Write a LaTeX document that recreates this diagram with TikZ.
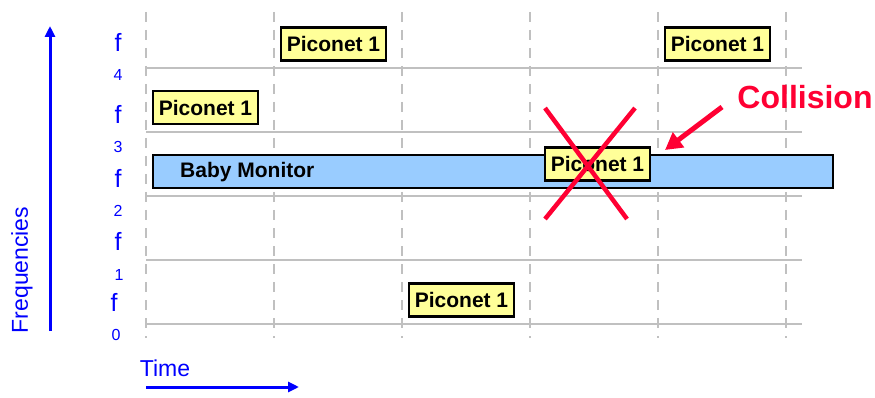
\documentclass[tikz,border=0pt]{standalone}
\usepackage{fontspec}
\setmainfont{Liberation Sans}
\usetikzlibrary{arrows.meta}
\definecolor{gridgray}{RGB}{192,192,192}
\definecolor{piyellow}{RGB}{255,255,153}
\definecolor{monblue}{RGB}{153,204,255}
\definecolor{axblue}{RGB}{0,0,255}
\definecolor{colred}{RGB}{255,0,51}
\tikzset{
  gridv/.style={gridgray, line width=2.4pt, dash pattern=on 10pt off 8pt},
  gridh/.style={gridgray, line width=2.4pt},
  picobox/.style={draw=black, line width=2.5pt, fill=piyellow, minimum width=105pt, minimum height=33pt, inner sep=0pt, font=\fontsize{21}{23}\selectfont\bfseries},
  monbox/.style={draw=black, line width=2.5pt, fill=monblue, minimum width=680pt, minimum height=33pt, inner sep=0pt},
  montext/.style={font=\fontsize{21}{23}\selectfont\bfseries, inner sep=0pt},
  flabel/.style={text=axblue, font=\fontsize{25}{27}\selectfont, inner sep=0pt},
  sublabel/.style={text=axblue, font=\fontsize{16}{18}\selectfont, inner sep=0pt},
  axlabel/.style={text=axblue, font=\fontsize{23}{25}\selectfont, inner sep=0pt},
  axarrow/.style={axblue, line width=3pt, -{Triangle[length=11pt,width=10pt]}},
  crossline/.style={colred, line width=4.5pt},
  colarrow/.style={colred, line width=5pt, -{Triangle[length=17pt,width=18pt]}},
  coltext/.style={text=colred, font=\fontsize{32}{34}\selectfont\bfseries, inner sep=0pt}
}
\begin{document}
\begin{tikzpicture}[x=1pt,y=-1pt]
\useasboundingbox (0,0) rectangle (875,398);
% grid
\foreach \xx in {146,274,402,530,658,786}
  \draw[gridv] (\xx,12) -- (\xx,338);
\foreach \yy in {68,132,196,260,324}
  \draw[gridh] (146,\yy) -- (802,\yy);
% frequency labels
\node[flabel] (f4) at (118,42) {f};
\node[sublabel] (s4) at (118,75) {4};
\node[flabel] (f3) at (118,114) {f};
\node[sublabel] (s3) at (118,147) {3};
\node[flabel] (f2) at (118,178) {f};
\node[sublabel] (s2) at (118,211) {2};
\node[flabel] (f1) at (118,241) {f};
\node[sublabel] (s1) at (119,275) {1};
\node[flabel] (f0) at (114,302) {f};
\node[sublabel] (s0) at (116,335) {0};
% axes
\coordinate (fa) at (50,331);
\coordinate (fb) at (50,26);
\draw[axarrow] (fa) -- (fb);
\node[axlabel, rotate=90] (freq) at (22,270) {Frequencies};
\coordinate (ta) at (146,387);
\coordinate (tb) at (299,387);
\draw[axarrow] (ta) -- (tb);
\node[axlabel] (time) at (165,368) {Time};
% piconets
\node[picobox] (p1) at (333.5,44) {Piconet 1};
\node[picobox] (p2) at (717.5,44) {Piconet 1};
\node[picobox] (p3) at (205.5,107.5) {Piconet 1};
\node[picobox] (p5) at (461.5,300) {Piconet 1};
% baby monitor
\node[monbox] (mon) at (493,171.5) {};
\node[montext, anchor=west] (montxt) at (180,172.5) {Baby Monitor};
\node[picobox] (p4) at (597.5,164) {Piconet 1};
% cross
\coordinate (xa) at (545,108);
\coordinate (xb) at (627,219);
\coordinate (xc) at (635,108);
\coordinate (xd) at (545,219);
\draw[crossline] (xa) -- (xb);
\draw[crossline] (xc) -- (xd);
% collision
\node[coltext] (col) at (805,97) {Collision};
\coordinate (ca) at (722,107);
\coordinate (cb) at (665,150);
\draw[colarrow] (ca) -- (cb);
\end{tikzpicture}
\end{document}
